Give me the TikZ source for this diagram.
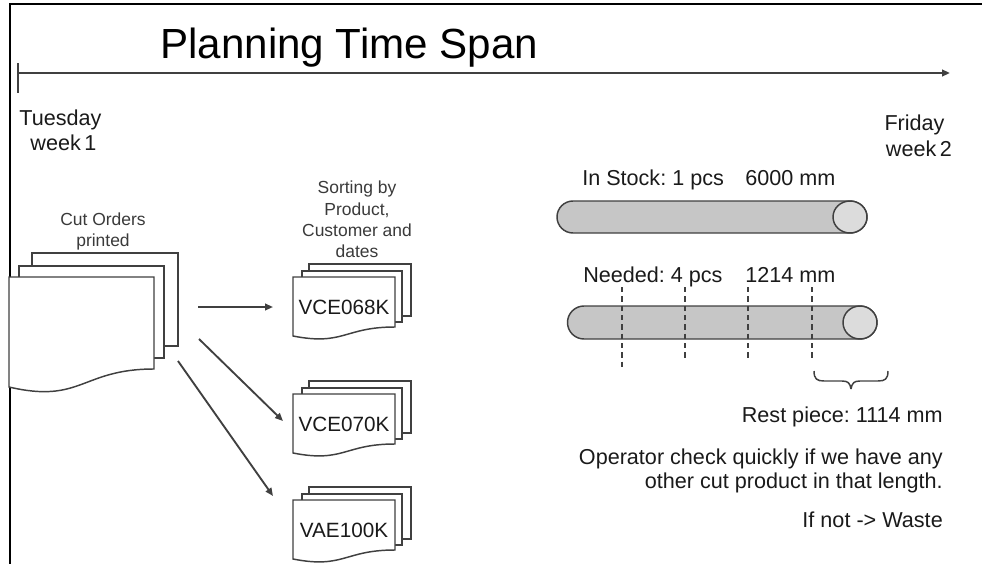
\documentclass[tikz,border=0pt]{standalone}
\usepackage{fontspec}
\setmainfont{Liberation Sans}
\usetikzlibrary{arrows.meta}
\frenchspacing
\definecolor{ln}{HTML}{404040}
\definecolor{bodyc}{HTML}{C6C6C6}
\definecolor{capc}{HTML}{DCDCDC}
\definecolor{txt}{HTML}{1A1A1A}
\definecolor{smalltxt}{HTML}{3A3A3A}
\tikzset{
  docline/.style={draw=ln, line width=1.1pt, fill=white},
  conn/.style={draw=ln, line width=1.4pt, -{Triangle[length=6pt,width=5pt]}},
  cyl/.style={draw=ln, line width=1.1pt, fill=bodyc},
  cylcap/.style={draw=ln, line width=1.1pt, fill=capc},
  cut/.style={draw=ln, line width=1.1pt, dash pattern=on 4pt off 3pt},
  bigtxt/.style={inner sep=0pt, text=txt, font=\fontsize{16.2}{19}\selectfont},
  smalltxtstyle/.style={inner sep=0pt, text=smalltxt, font=\fontsize{13.1}{15}\selectfont},
  doctxt/.style={inner sep=0pt, text=txt, font=\fontsize{15.5}{18}\selectfont},
}
% front sheet: x, y, w, right height, left height, control height
\newcommand{\frontsheet}[6]{%
  \draw[docline] (#1,#2) -- ({#1+#3},#2) -- ({#1+#3},{#2+#4})
    .. controls ({#1+0.5*#3},{#2+#4}) and ({#1+0.5*#3},{#2+#6}) .. (#1,{#2+#5}) -- cycle;}
% small stack with front top at y=#1, label #2, node name #3
\newcommand{\smallstack}[3]{%
  \draw[docline] (309,{#1-13}) rectangle (411,{#1+39});
  \draw[docline] (302,{#1-6}) rectangle (402,{#1+45});
  \frontsheet{293}{#1}{102}{50}{59}{69}
  \node[doctxt] (#3) at (344,{#1+30}) {#2};}
\begin{document}
\begin{tikzpicture}[x=0.75pt,y=-0.75pt]
\useasboundingbox (0,0) rectangle (982,564);
% frame
\draw[black, line width=1.5pt] (10,564) -- (10,4) -- (982,4);

% title and timeline
\node[inner sep=0pt, anchor=base west, text=black, font=\fontsize{31.6}{37}\selectfont] (title) at (160,58) {Planning Time Span};
\coordinate (tl0) at (18,73);
\coordinate (tl1) at (950,73);
\draw[ln, line width=1.5pt] (18,63) -- (18,93);
\draw[ln, line width=1.5pt, -{Triangle[length=6pt,width=5pt]}] (tl0) -- (tl1);

\node[bigtxt, anchor=base] (tue1) at (60.5,125.5) {Tuesday};
\node[bigtxt, anchor=base] (tue2) at (63.5,150.5) {week\,1};
\node[bigtxt, anchor=base] (fri1) at (914.5,130.5) {Friday};
\node[bigtxt, anchor=base] (fri2) at (919,156.5) {week\,2};

% big stack
\node[smalltxtstyle, anchor=base] (cut1) at (103,225) {Cut Orders};
\node[smalltxtstyle, anchor=base] (cut2) at (103,246) {printed};
\draw[docline] (32,253) rectangle (178,346);
\draw[docline] (19,266) rectangle (164,358);
\frontsheet{9}{277}{145}{92}{110}{127}

% sorting label
\node[smalltxtstyle, anchor=base] (s1) at (357,193) {Sorting by};
\node[smalltxtstyle, anchor=base] (s2) at (357,215) {Product,};
\node[smalltxtstyle, anchor=base] (s3) at (357,236) {Customer and};
\node[smalltxtstyle, anchor=base] (s4) at (357,257) {dates};

% small stacks
\smallstack{277}{VCE068K}{d1}
\smallstack{394}{VCE070K}{d2}
\smallstack{500}{VAE100K}{d3}

% connectors
\coordinate (a1s) at (198,307); \coordinate (a1e) at (273,307);
\coordinate (a2s) at (199,339); \coordinate (a2e) at (283,421);
\coordinate (a3s) at (178,361); \coordinate (a3e) at (273,496);
\draw[conn] (a1s) -- (a1e);
\draw[conn] (a2s) -- (a2e);
\draw[conn] (a3s) -- (a3e);

% stock bar
\node[bigtxt, anchor=base west] (stock) at (582,185) {In Stock: 1 pcs};
\node[bigtxt, anchor=base west] (stockmm) at (745,185) {6000 mm};
\draw[cyl] (850,201) -- (573,201) arc[start angle=270, end angle=90, radius=16]
  -- (850,233) arc[start angle=90, end angle=-90, x radius=17, y radius=16] -- cycle;
\draw[cylcap] (850,217) ellipse[x radius=17, y radius=16];

% needed bar
\node[bigtxt, anchor=base west] (need) at (583,282) {Needed: 4 pcs};
\node[bigtxt, anchor=base west] (needmm) at (745,282) {1214 mm};
\draw[cyl] (860,306) -- (584,306) arc[start angle=270, end angle=90, radius=16.5]
  -- (860,339) arc[start angle=90, end angle=-90, x radius=17, y radius=16.5] -- cycle;
\draw[cylcap] (860,322.5) ellipse[x radius=17, y radius=16.5];
\draw[cut] (622,287) -- (622,370);
\draw[cut] (685,287) -- (685,360);
\draw[cut] (748,287) -- (748,360);
\draw[cut] (812,287) -- (812,360);

% brace
\draw[ln, line width=1.1pt] (814,371) .. controls (814,379) and (817,381) .. (824,381) -- (842,381)
  .. controls (848,381) and (850,383) .. (851,389);
\draw[ln, line width=1.1pt] (888,371) .. controls (888,379) and (885,381) .. (878,381) -- (860,381)
  .. controls (854,381) and (852,383) .. (851,389);

% notes
\node[bigtxt, anchor=base east] (rest) at (943,422) {Rest piece: 1114 mm};
\node[bigtxt, anchor=base east] (op1) at (943,464) {Operator check quickly if we have any};
\node[bigtxt, anchor=base east] (op2) at (943,488) {other cut product in that length.};
\node[bigtxt, anchor=base east] (ifnot) at (943,527) {If not -> Waste};
\end{tikzpicture}
\end{document}
